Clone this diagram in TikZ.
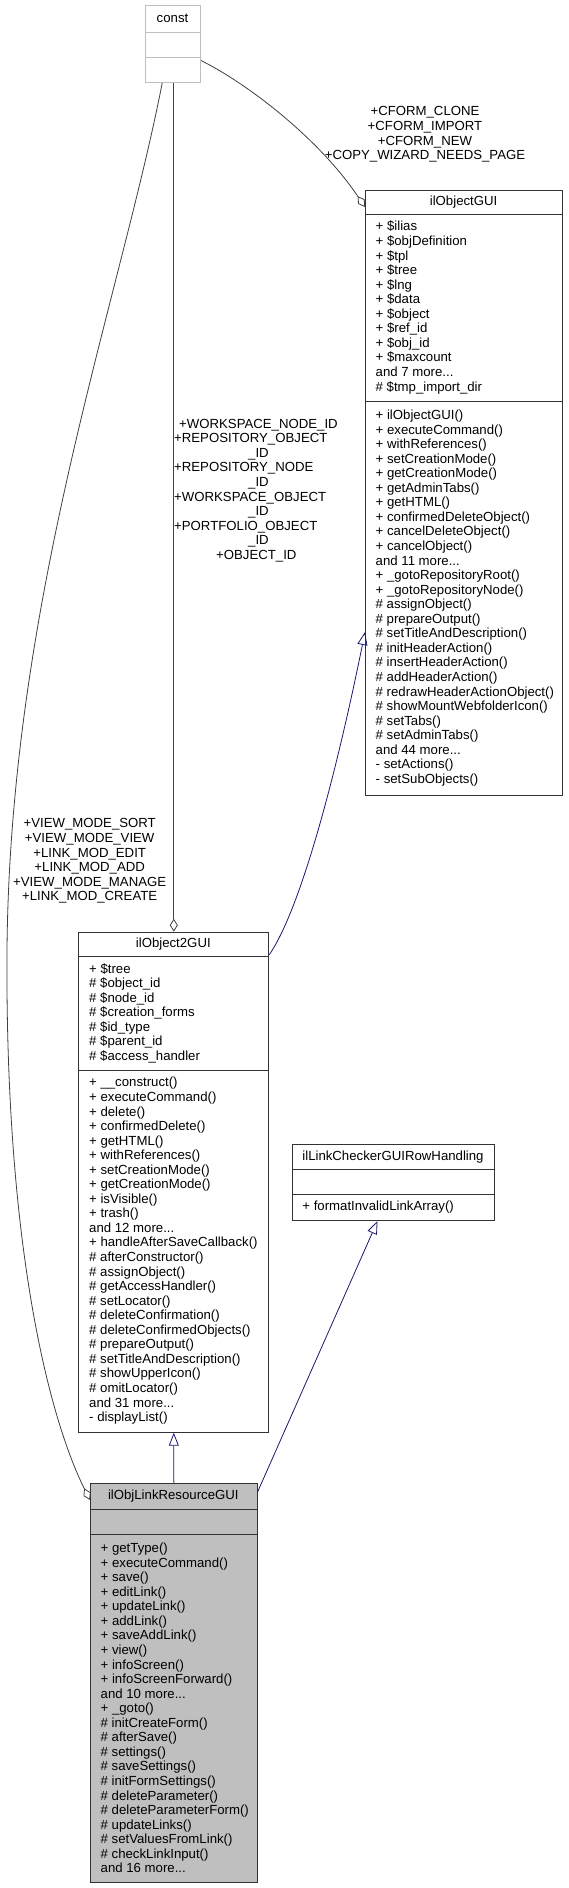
\documentclass[tikz,border=0pt]{standalone}
\usepackage{fontspec}
\setmainfont{Liberation Sans}
\usetikzlibrary{arrows.meta}
\definecolor{edgegray}{HTML}{404040}
\definecolor{navyblue}{HTML}{191970}
\definecolor{boxgray}{HTML}{BFBFBF}
\definecolor{boxline}{HTML}{333333}
\tikzset{
  cls/.style={draw=boxline, line width=1pt, inner sep=0pt, anchor=north west},
  divline/.style={draw=boxline, line width=1pt},
  txt/.style={font=\fontsize{13.2}{14.55}\selectfont, align=left, inner sep=0pt, anchor=west},
  ttl/.style={font=\fontsize{13.2}{14.55}\selectfont, inner sep=0pt},
  lbl/.style={font=\fontsize{13.2}{14.55}\selectfont, align=center, inner sep=0pt},
  lbll/.style={font=\fontsize{13.2}{14.55}\selectfont, align=left, inner sep=0pt, anchor=west},
  dep/.style={draw=edgegray, line width=0.8pt, -{Diamond[open, length=13pt, width=8pt]}},
  inh/.style={draw=navyblue, line width=0.8pt, -{Triangle[open, length=13pt, width=10pt]}},
}
\begin{document}
\begin{tikzpicture}[x=1pt,y=-1pt]
\useasboundingbox (0,0) rectangle (568,1888);

% const
\node[cls, draw=boxgray, minimum width=55pt, minimum height=77pt] (const) at (145,5) {};
\draw[boxgray, line width=1pt] (145,32) -- (200,32) (145,57) -- (200,57);
\node[ttl] (constT) at (172.5,18.5) {const};

% ilObjectGUI
\node[cls, minimum width=197.3pt, minimum height=605pt] (objgui) at (365,190) {};
\draw[divline] (365,214) -- (562.3,214) (365,401) -- (562.3,401);
\node[ttl] (objguiT) at (463.6,202) {ilObjectGUI};
\node[txt] (objguiA) at (375.5,307.5) {+ \$ilias\\+ \$objDefinition\\+ \$tpl\\+ \$tree\\+ \$lng\\+ \$data\\+ \$object\\+ \$ref\_id\\+ \$obj\_id\\+ \$maxcount\\and 7 more...\\\# \$tmp\_import\_dir};
\node[txt] (objguiM) at (375.5,598) {+ ilObjectGUI()\\+ executeCommand()\\+ withReferences()\\+ setCreationMode()\\+ getCreationMode()\\+ getAdminTabs()\\+ getHTML()\\+ confirmedDeleteObject()\\+ cancelDeleteObject()\\+ cancelObject()\\and 11 more...\\+ \_gotoRepositoryRoot()\\+ \_gotoRepositoryNode()\\\# assignObject()\\\# prepareOutput()\\\# setTitleAndDescription()\\\# initHeaderAction()\\\# insertHeaderAction()\\\# addHeaderAction()\\\# redrawHeaderActionObject()\\\# showMountWebfolderIcon()\\\# setTabs()\\\# setAdminTabs()\\and 44 more...\\- setActions()\\- setSubObjects()};

% ilObject2GUI
\node[cls, minimum width=190pt, minimum height=500pt] (obj2) at (78.3,931.7) {};
\draw[divline] (78.3,956.7) -- (268.3,956.7) (78.3,1070) -- (268.3,1070);
\node[ttl] (obj2T) at (173.3,944.2) {ilObject2GUI};
\node[txt] (obj2A) at (89,1013.3) {+ \$tree\\\# \$object\_id\\\# \$node\_id\\\# \$creation\_forms\\\# \$id\_type\\\# \$parent\_id\\\# \$access\_handler};
\node[txt] (obj2M) at (89,1250.8) {+ \_\_construct()\\+ executeCommand()\\+ delete()\\+ confirmedDelete()\\+ getHTML()\\+ withReferences()\\+ setCreationMode()\\+ getCreationMode()\\+ isVisible()\\+ trash()\\and 12 more...\\+ handleAfterSaveCallback()\\\# afterConstructor()\\\# assignObject()\\\# getAccessHandler()\\\# setLocator()\\\# deleteConfirmation()\\\# deleteConfirmedObjects()\\\# prepareOutput()\\\# setTitleAndDescription()\\\# showUpperIcon()\\\# omitLocator()\\and 31 more...\\- displayList()};

% ilLinkCheckerGUIRowHandling
\node[cls, minimum width=202.6pt, minimum height=76pt] (lc) at (291.7,1144) {};
\draw[divline] (291.7,1169.3) -- (494.3,1169.3) (291.7,1194.3) -- (494.3,1194.3);
\node[ttl] (lcT) at (393,1156.6) {ilLinkCheckerGUIRowHandling};
\node[txt] (lcM) at (302.2,1207.2) {+ formatInvalidLinkArray()};

% ilObjLinkResourceGUI
\node[cls, fill=boxgray, minimum width=166.7pt, minimum height=399pt] (olr) at (90,1482.7) {};
\draw[divline] (90,1509) -- (256.7,1509) (90,1534.3) -- (256.7,1534.3);
\node[ttl] (olrT) at (173.3,1495.9) {ilObjLinkResourceGUI};
\node[txt] (olrM) at (100.5,1708) {+ getType()\\+ executeCommand()\\+ save()\\+ editLink()\\+ updateLink()\\+ addLink()\\+ saveAddLink()\\+ view()\\+ infoScreen()\\+ infoScreenForward()\\and 10 more...\\+ \_goto()\\\# initCreateForm()\\\# afterSave()\\\# settings()\\\# saveSettings()\\\# initFormSettings()\\\# deleteParameter()\\\# deleteParameterForm()\\\# updateLinks()\\\# setValuesFromLink()\\\# checkLinkInput()\\and 16 more...};

% connectors
\draw[dep] ([yshift=-16.5pt]const.east) .. controls (250,85) and (320,140) .. ([yshift=-17pt]objgui.north west);
\node[lbl] (cformL) at (425,134.5) {+CFORM\_CLONE\\+CFORM\_IMPORT\\+CFORM\_NEW\\+COPY\_WIZARD\_NEEDS\_PAGE};

\draw[dep] (obj2.north |- const.south) -- (obj2.north);
\node[lbll] (wsL) at (174,490.5) {\hspace*{5pt}+WORKSPACE\_NODE\_ID\\+REPOSITORY\_OBJECT\\\hspace*{74pt}\_ID\\+REPOSITORY\_NODE\\\hspace*{74pt}\_ID\\+WORKSPACE\_OBJECT\\\hspace*{74pt}\_ID\\+PORTFOLIO\_OBJECT\\\hspace*{74pt}\_ID\\\hspace*{42pt}+OBJECT\_ID};

\draw[dep] ([xshift=-10.8pt]const.south) .. controls (120,300) and (10,600) .. (7,950) .. controls (5,1250) and (50,1420) .. ([yshift=-17.3pt]olr.north west);
\node[lbl] (viewL) at (89.7,861) {+VIEW\_MODE\_SORT\\+VIEW\_MODE\_VIEW\\+LINK\_MOD\_EDIT\\+LINK\_MOD\_ADD\\+VIEW\_MODE\_MANAGE\\+LINK\_MOD\_CREATE};

\draw[inh] ([yshift=-23pt]obj2.north east) .. controls (300,910) and (335,780) .. ([yshift=-442pt]objgui.north west);
\draw[inh] (olr.north) -- (obj2.south);
\draw[inh] ([yshift=-9pt]olr.north east) -- ([xshift=-16pt]lc.south);
\end{tikzpicture}
\end{document}
